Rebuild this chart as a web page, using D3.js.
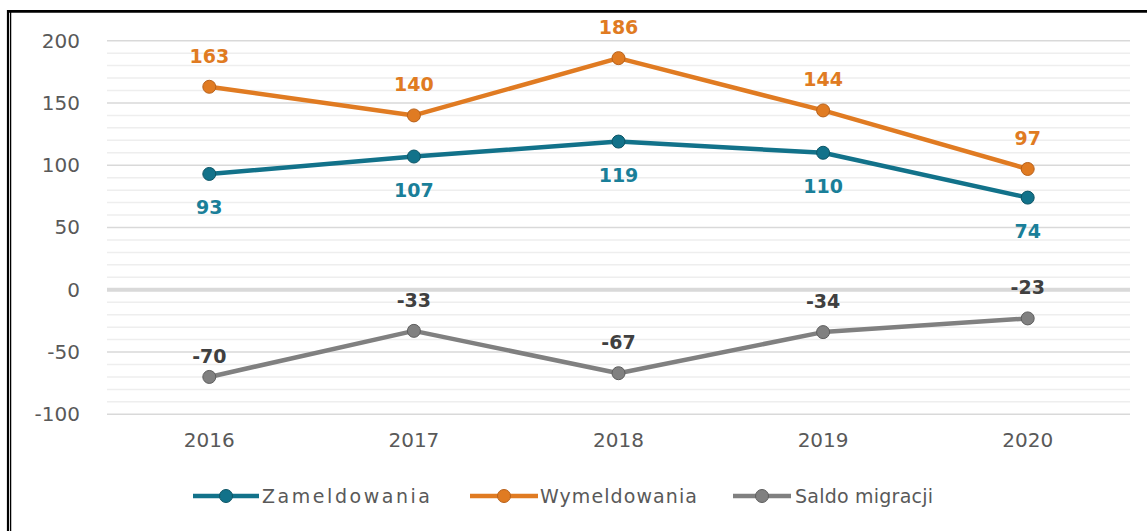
<!DOCTYPE html>
<html><head><meta charset="utf-8">
<script src="https://cdn.jsdelivr.net/npm/d3@7"></script>
<style>body{margin:0;background:#fff}svg{display:block}text{font-family:"DejaVu Sans",sans-serif}</style>
</head><body><svg id="c" width="1147" height="531"></svg>
<script>
const years = ["2016","2017","2018","2019","2020"];
const zameldowania = [93,107,119,110,74];
const wymeldowania = [163,140,186,144,97];
const saldo = [-70,-33,-67,-34,-23];
const yTicks = [200,150,100,50,0,-50,-100];
const seriesNames = ["Zameldowania","Wymeldowania","Saldo migracji"];

const svg = d3.select("#c");
// frame
svg.append("line").attr("x1",7).attr("x2",1147).attr("y1",11.4).attr("y2",11.4).attr("stroke","#000").attr("stroke-width",2.8);
svg.append("line").attr("x1",8).attr("x2",8).attr("y1",10).attr("y2",531).attr("stroke","#000").attr("stroke-width",2.2);
svg.append("line").attr("x1",10.6).attr("x2",10.6).attr("y1",12).attr("y2",531).attr("stroke","#000").attr("stroke-width",1.3);

const x = d3.scaleBand().domain(years).range([107,1130]);
const y = d3.scaleLinear().domain([-100,200]).range([414.3,40.7]);

// minor gridlines
const minor = d3.range(-100,201,10).filter(v=>v%50!==0);
svg.append("g").selectAll("line").data(minor).join("line")
  .attr("x1",107).attr("x2",1130).attr("y1",d=>y(d)).attr("y2",d=>y(d))
  .attr("stroke","#eeeeee").attr("stroke-width",1.5);
// major gridlines
svg.append("g").selectAll("line").data(yTicks.filter(d=>d!==0)).join("line")
  .attr("x1",107).attr("x2",1130).attr("y1",d=>y(d)).attr("y2",d=>y(d))
  .attr("stroke","#d9d9d9").attr("stroke-width",1.5);
svg.append("line").attr("x1",107).attr("x2",1130).attr("y1",y(0)).attr("y2",y(0))
  .attr("stroke","#d9d9d9").attr("stroke-width",4);

// y axis labels
const ya = svg.append("g").attr("transform","translate(80,0)")
  .call(d3.axisLeft(y).tickValues(yTicks).tickSize(0).tickPadding(0).tickFormat(d=>String(d)));
ya.select(".domain").remove();
ya.selectAll("text").attr("font-size",20).attr("fill","#595959").attr("font-family","DejaVu Sans");

// x axis labels
const xa = svg.append("g").attr("transform","translate(0,433)")
  .call(d3.axisBottom(x).tickSize(0).tickPadding(0));
xa.select(".domain").remove();
xa.selectAll("text").attr("font-size",20).attr("fill","#595959").attr("font-family","DejaVu Sans");

const series = [
  {name:seriesNames[0], vals:zameldowania, color:"#12728a", stroke:"#0d5566", label:"#1a7f99", off:40},
  {name:seriesNames[1], vals:wymeldowania, color:"#e07b22", stroke:"#b8611a", label:"#e07b22", off:-24},
  {name:seriesNames[2], vals:saldo, color:"#808080", stroke:"#5e5e5e", label:"#404040", off:-24}
];
const cx = i => x(years[i]) + x.bandwidth()/2;
const line = d3.line().x((d,i)=>cx(i)).y(d=>y(d));
series.forEach(s=>{
  const g = svg.append("g");
  g.append("path").attr("d",line(s.vals)).attr("fill","none").attr("stroke",s.color).attr("stroke-width",4.5).attr("stroke-linejoin","round");
  g.selectAll("circle").data(s.vals).join("circle")
    .attr("cx",(d,i)=>cx(i)).attr("cy",d=>y(d)).attr("r",6.5)
    .attr("fill",s.color).attr("stroke",s.stroke).attr("stroke-width",1);
  g.selectAll("text").data(s.vals).join("text")
    .attr("x",(d,i)=>cx(i)).attr("y",(d,i)=> y(d) + (s.name==="Saldo migracji" ? (i===0?-14:-24) : s.off))
    .attr("text-anchor","middle").attr("font-size",19).attr("font-weight","bold")
    .attr("fill",s.label).text(d=>d);
});

// legend
const legSym = [[193,259],[470,538],[733,791]];
const legText = [[262,168],[540,157],[795,138]];
const leg = svg.append("g");
series.forEach((s,i)=>{
  const gy = 496;
  const [a,b] = legSym[i];
  leg.append("line").attr("x1",a).attr("x2",b).attr("y1",gy).attr("y2",gy).attr("stroke",s.color).attr("stroke-width",4.5);
  leg.append("circle").attr("cx",(a+b)/2).attr("cy",gy).attr("r",6.5).attr("fill",s.color).attr("stroke",s.stroke);
  leg.append("text").attr("x",legText[i][0]).attr("y",gy+7).attr("font-size",19).attr("fill","#595959")
    .attr("textLength",legText[i][1]).attr("lengthAdjust","spacing").text(s.name);
});
</script></body></html>
